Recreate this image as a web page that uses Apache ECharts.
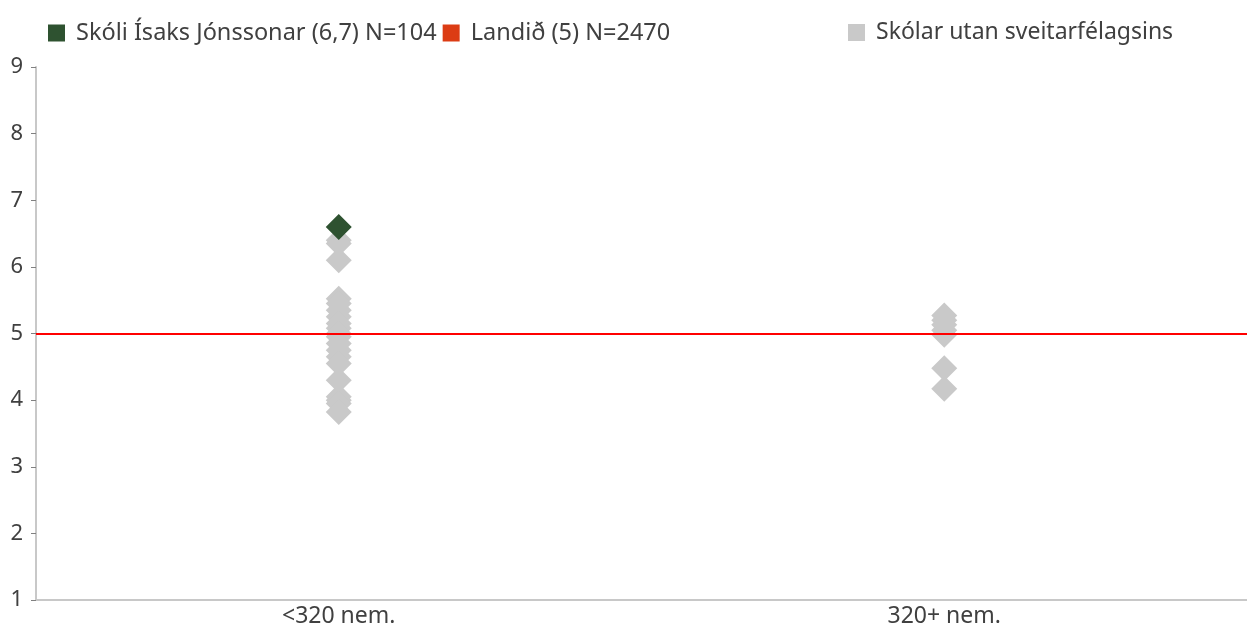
<!DOCTYPE html>
<html><head><meta charset="utf-8">
<script src="https://cdn.jsdelivr.net/npm/echarts@6/dist/echarts.min.js"></script>
<style>html,body{margin:0;padding:0;background:#fff}#c{width:1247px;height:628px}</style>
</head><body><div id="c"></div>
<script>
const categories = ['<320 nem.', '320+ nem.'];
const schoolName = 'Skóli Ísaks Jónssonar (6,7) N=104';
const nationName = 'Landið (5) N=2470';
const otherName = 'Skólar utan sveitarfélagsins';
const schoolValue = 6.6;          // in '<320 nem.'
const nationValue = 5;
const otherSmall = [6.4, 6.35, 6.1, 5.52, 5.45, 5.35, 5.25, 5.15, 5.08, 5.0, 4.95, 4.85, 4.75, 4.65, 4.55, 4.3, 4.05, 4.0, 3.95, 3.82];
const otherLarge = [5.27, 5.2, 5.13, 5.05, 4.98, 4.48, 4.17];
const yTicks = [1, 2, 3, 4, 5, 6, 7, 8, 9];

const otherData = otherSmall.map(v => [categories[0], v]).concat(otherLarge.map(v => [categories[1], v]));
const font = '"Noto Sans", "Open Sans", sans-serif';
const txt = '#404040';

const chart = echarts.init(document.getElementById('c'));
chart.setOption({
  animation: false,
  textStyle: { fontFamily: font },
  grid: { left: 36, right: -1, top: 67, bottom: 28, containLabel: false },
  legend: [
    { left: 43, top: 16, itemWidth: 17, itemHeight: 17, itemGap: 6, icon: 'rect',
      textStyle: { fontFamily: font, fontSize: 23.5, color: txt, padding: [0, 0, 0, 6] },
      data: [schoolName, nationName] },
    { left: 843, top: 16, itemWidth: 17, itemHeight: 17, icon: 'rect',
      textStyle: { fontFamily: font, fontSize: 23, color: txt, padding: [0, 0, 0, 6] },
      data: [otherName] }
  ],
  xAxis: {
    type: 'category', data: categories, boundaryGap: true,
    axisLine: { lineStyle: { color: '#c8c8c8', width: 2 } },
    axisTick: { show: false },
    axisLabel: { fontFamily: font, fontSize: 23, color: txt, margin: 5 },
    splitLine: { show: false }
  },
  yAxis: {
    type: 'value', min: yTicks[0], max: yTicks[yTicks.length - 1], interval: 1,
    axisLine: { show: true, lineStyle: { color: '#c8c8c8', width: 2 } },
    axisTick: { show: true, length: 5, lineStyle: { color: '#808080', width: 1 } },
    axisLabel: { fontFamily: font, fontSize: 22, color: txt, margin: 13 },
    splitLine: { show: false }
  },
  series: [
    { name: otherName, type: 'scatter', symbol: 'diamond', symbolSize: 26,
      itemStyle: { color: '#c9c9c9', opacity: 1 }, data: otherData, z: 2 },
    { name: nationName, type: 'scatter', data: [],
      itemStyle: { color: '#dc3c14', opacity: 1 },
      markLine: { silent: true, symbol: 'none', label: { show: false },
        lineStyle: { color: '#ff0000', width: 2, type: 'solid', opacity: 1 },
        data: [{ yAxis: nationValue }] }, z: 3 },
    { name: schoolName, type: 'scatter', symbol: 'diamond', symbolSize: 26,
      itemStyle: { color: '#2e5230', opacity: 1 }, data: [[categories[0], schoolValue]], z: 4 }
  ]
});
</script></body></html>
